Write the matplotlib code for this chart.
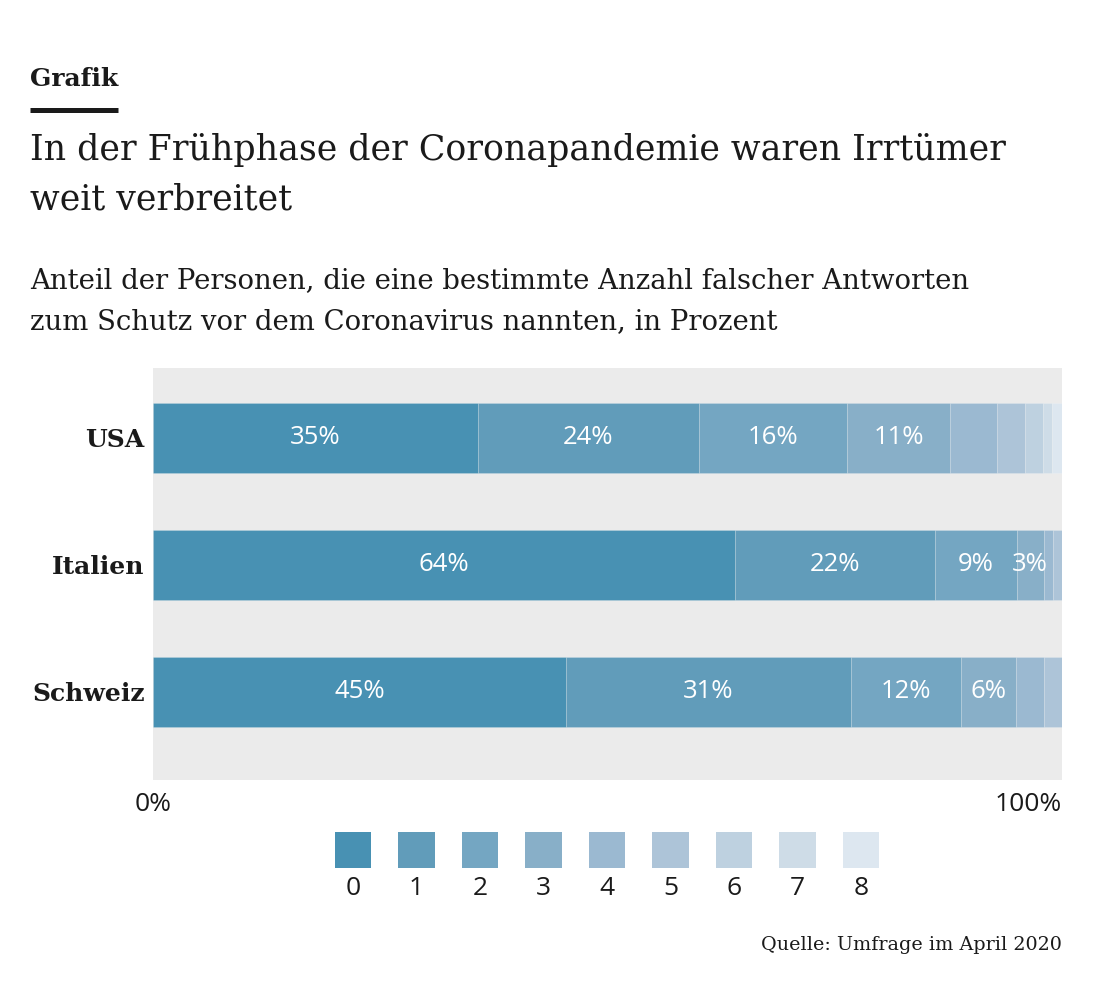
import matplotlib.pyplot as plt
import numpy as np

# Daten (Anteil in Prozent je Anzahl falscher Antworten 0..8)
categories = ["USA", "Italien", "Schweiz"]
usa = [35.7, 24.4, 16.3, 11.3, 5.1, 3.1, 2.0, 1.0, 1.1]
italien = [64.0, 22.0, 9.0, 3.0, 1.0, 1.0, 0, 0, 0]
schweiz = [45.4, 31.4, 12.1, 6.0, 3.1, 2.0, 0, 0, 0]
n_wrong = [0, 1, 2, 3, 4, 5, 6, 7, 8]
colors = ["#4891b3", "#619cba", "#74a6c2", "#88afc8", "#9bb9d1",
          "#adc4d8", "#bed1e0", "#cedce7", "#dde7f0"]

W, H = 1102, 1008
SERIF = "DejaVu Serif"
SANS = "Open Sans"
DARK = "#1a1a1a"


def fx(px):
    return px / W


def fy(py):
    return 1 - py / H


fig = plt.figure(figsize=(W / 100, H / 100), dpi=100)

# Kopfbereich
fig.text(fx(30), fy(79), "Grafik", family=SERIF, weight="bold", fontsize=18,
         color=DARK, va="center")
fig.add_artist(plt.Line2D([fx(30), fx(118)], [fy(110), fy(110)], color=DARK,
                          linewidth=3.6, solid_capstyle="butt"))
fig.text(fx(30), fy(150), "In der Frühphase der Coronapandemie waren Irrtümer",
         family=SERIF, fontsize=25, color=DARK, va="center")
fig.text(fx(30), fy(200), "weit verbreitet", family=SERIF, fontsize=25,
         color=DARK, va="center")
fig.text(fx(30), fy(281), "Anteil der Personen, die eine bestimmte Anzahl falscher Antworten",
         family=SERIF, fontsize=19.8, color=DARK, va="center")
fig.text(fx(30), fy(322), "zum Schutz vor dem Coronavirus nannten, in Prozent",
         family=SERIF, fontsize=19.8, color=DARK, va="center")

# Hauptdiagramm
ax = fig.add_axes([fx(153), fy(780), fx(1062) - fx(153), (780 - 368) / H])
ax.set_facecolor("#ebebeb")
data = np.array([usa, italien, schweiz])
ypos = np.arange(len(categories))
left = np.zeros(len(categories))
for k in range(len(n_wrong)):
    vals = data[:, k]
    ax.barh(ypos, vals, left=left, height=0.555, color=colors[k],
            edgecolor="#ffffff30", linewidth=0.6)
    if k < 4:
        for i, v in enumerate(vals):
            ax.text(left[i] + v / 2, ypos[i], f"{int(v)}%", ha="center",
                    va="center", color="white", family=SANS, fontsize=18.5)
    left += vals

ax.set_xlim(0, 100)
ax.set_ylim(2.693, -0.551)
ax.set_yticks(ypos)
ax.set_yticklabels(categories, family=SERIF, weight="bold", fontsize=18,
                   color=DARK)
ax.tick_params(axis="y", length=0, pad=6)
ax.set_xticks([])
for s in ax.spines.values():
    s.set_visible(False)
ax.text(0, -0.06, "0%", transform=ax.transAxes, ha="center", va="center",
        family=SANS, fontsize=19, color=DARK)
ax.text(1, -0.06, "100%", transform=ax.transAxes, ha="right", va="center",
        family=SANS, fontsize=19, color=DARK)

# Legende
lax = fig.add_axes([fx(321.25), fy(868), fx(571.5), 36 / H])
lax.bar(n_wrong, [1] * len(n_wrong), width=0.567, color=colors)
lax.set_xlim(-0.5, 8.5)
lax.set_ylim(0, 1)
lax.set_xticks(n_wrong)
lax.set_xticklabels([str(n) for n in n_wrong], family=SANS, fontsize=19,
                    color=DARK)
lax.tick_params(axis="x", length=0, pad=6)
lax.set_yticks([])
for s in lax.spines.values():
    s.set_visible(False)
lax.patch.set_alpha(0)

fig.text(fx(1062), fy(945), "Quelle: Umfrage im April 2020", family=SERIF,
         fontsize=13.8, color=DARK, ha="right", va="center")

fig.savefig("out.png", dpi=100)
